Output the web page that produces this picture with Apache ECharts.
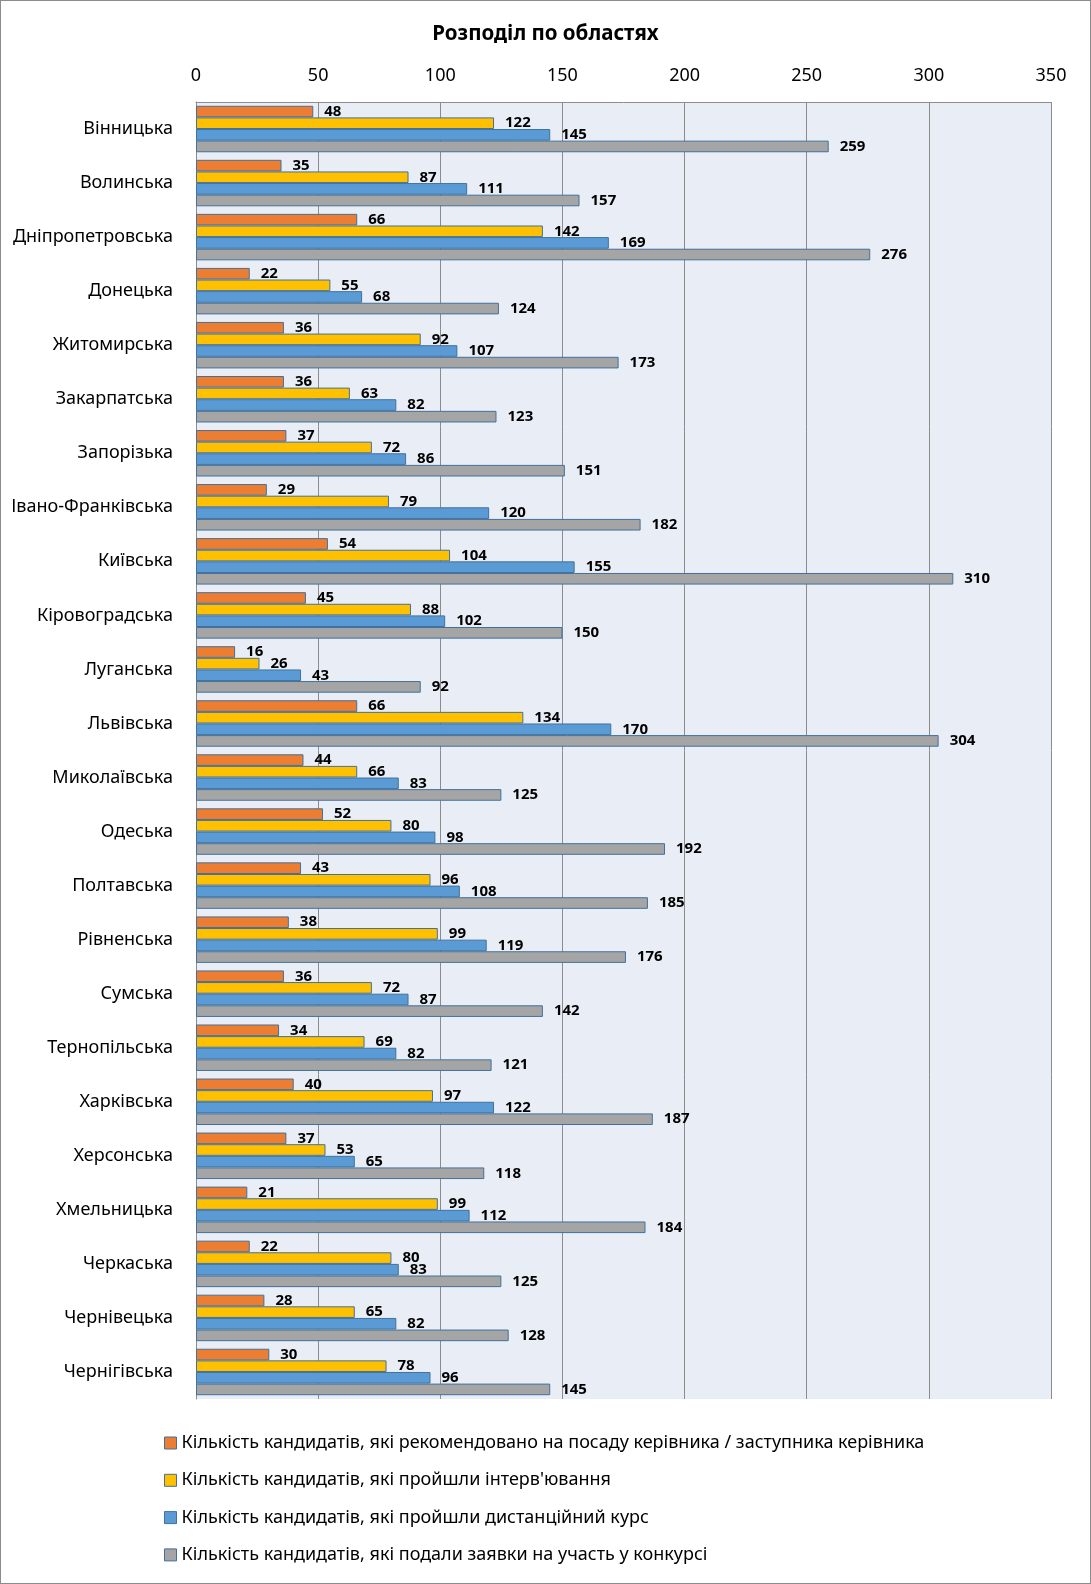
<!DOCTYPE html>
<html lang="uk">
<head>
    <meta charset="UTF-8">
    <title>Розподіл по областях</title>
    <script src="https://cdn.jsdelivr.net/npm/echarts@6/dist/echarts.min.js"></script>
    <style>
        html, body { margin: 0; padding: 0; background: #fff; }
        #chart {
            width: 1091px;
            height: 1584px;
            box-sizing: border-box;
            border: 1px solid #8c8c8c;
        }
    </style>
</head>
<body>
<div id="chart"></div>
<script type="text/javascript">
    // області (зверху вниз)
    var regions = ['Вінницька', 'Волинська', 'Дніпропетровська', 'Донецька', 'Житомирська',
        'Закарпатська', 'Запорізька', 'Івано-Франківська', 'Київська', 'Кіровоградська',
        'Луганська', 'Львівська', 'Миколаївська', 'Одеська', 'Полтавська', 'Рівненська',
        'Сумська', 'Тернопільська', 'Харківська', 'Херсонська', 'Хмельницька', 'Черкаська',
        'Чернівецька', 'Чернігівська'];

    var seriesNames = [
        'Кількість кандидатів, які рекомендовано на посаду керівника / заступника керівника',
        'Кількість кандидатів, які пройшли інтерв\'ювання',
        'Кількість кандидатів, які пройшли дистанційний курс',
        'Кількість кандидатів, які подали заявки на участь у конкурсі'
    ];

    var recommended = [48, 35, 66, 22, 36, 36, 37, 29, 54, 45, 16, 66, 44, 52, 43, 38, 36, 34, 40, 37, 21, 22, 28, 30];
    var interviewed = [122, 87, 142, 55, 92, 63, 72, 79, 104, 88, 26, 134, 66, 80, 96, 99, 72, 69, 97, 53, 99, 80, 65, 78];
    var course = [145, 111, 169, 68, 107, 82, 86, 120, 155, 102, 43, 170, 83, 98, 108, 119, 87, 82, 122, 65, 112, 83, 82, 96];
    var applied = [259, 157, 276, 124, 173, 123, 151, 182, 310, 150, 92, 304, 125, 192, 185, 176, 142, 121, 187, 118, 184, 125, 128, 145];

    var xTicks = [0, 50, 100, 150, 200, 250, 300, 350];

    var colors = ['#ED7D31', '#FFC000', '#5B9BD5', '#A5A5A5'];
    var font = '"Noto Sans", "DejaVu Sans", sans-serif';

    var chart = echarts.init(document.getElementById('chart'));

    function makeSeries(i, data) {
        return {
            name: seriesNames[i],
            type: 'bar',
            data: data,
            barGap: '0%',
            barCategoryGap: '14%',
            itemStyle: {
                color: colors[i],
                borderColor: '#41719C',
                borderWidth: 1
            },
            label: {
                show: true,
                position: 'right',
                distance: 11,
                color: '#000',
                fontFamily: font,
                fontWeight: 'bold',
                fontSize: 15
            },
            animation: false
        };
    }

    var option = {
        backgroundColor: '#fff',
        title: {
            text: 'Розподіл по областях',
            left: 'center',
            top: 18,
            textStyle: {
                fontFamily: font,
                fontWeight: 'bold',
                fontSize: 20.5,
                color: '#000'
            }
        },
        legend: {
            orient: 'vertical',
            left: 158,
            top: 1426,
            itemWidth: 12,
            itemHeight: 12,
            itemGap: 15.3,
            icon: 'rect',
            itemStyle: { borderColor: '#41719C', borderWidth: 1 },
            textStyle: {
                fontFamily: font,
                fontSize: 18,
                lineHeight: 22,
                color: '#000'
            },
            data: seriesNames
        },
        grid: {
            left: 195,
            right: 39,
            top: 101,
            bottom: 184,
            containLabel: false,
            show: true,
            backgroundColor: '#E9EDF5',
            borderWidth: 0
        },
        xAxis: {
            type: 'value',
            position: 'top',
            min: 0,
            max: 350,
            interval: 50,
            axisLine: { show: true, lineStyle: { color: '#8c8c8c', width: 1 } },
            axisTick: { show: false },
            axisLabel: {
                margin: 17,
                fontFamily: font,
                fontSize: 18,
                color: '#000',
                formatter: function (v) { return xTicks.indexOf(v) >= 0 ? String(v) : ''; }
            },
            splitLine: { show: true, lineStyle: { color: '#8c8c8c', width: 1 } }
        },
        yAxis: {
            type: 'category',
            inverse: true,
            data: regions,
            axisLine: { show: true, lineStyle: { color: '#8c8c8c', width: 1 } },
            axisTick: { show: false },
            axisLabel: {
                margin: 23,
                fontFamily: font,
                fontSize: 18,
                color: '#000'
            }
        },
        series: [
            makeSeries(0, recommended),
            makeSeries(1, interviewed),
            makeSeries(2, course),
            makeSeries(3, applied)
        ]
    };

    chart.setOption(option);
</script>
</body>
</html>
